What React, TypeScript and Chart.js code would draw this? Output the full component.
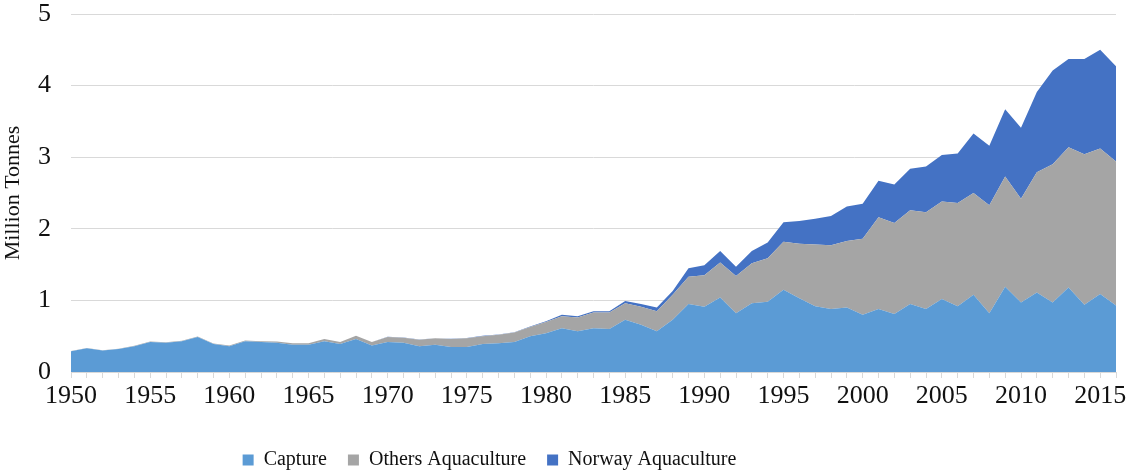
import React, { useEffect, useRef } from "react";
import { Chart, registerables } from "chart.js";

Chart.register(...registerables);

const years: string[] = [];
for (let y = 1950; y <= 2016; y++) years.push(String(y));

const capture = [
  0.29, 0.33, 0.30, 0.32, 0.36, 0.42, 0.41, 0.43, 0.49, 0.39,
  0.36, 0.43, 0.42, 0.41, 0.38, 0.38, 0.43, 0.39, 0.46, 0.37,
  0.42, 0.41, 0.36, 0.38, 0.35, 0.35, 0.39, 0.40, 0.42, 0.50,
  0.54, 0.61, 0.57, 0.61, 0.60, 0.73, 0.66, 0.57, 0.73, 0.95,
  0.91, 1.04, 0.82, 0.96, 0.98, 1.15, 1.03, 0.92, 0.88, 0.90,
  0.80, 0.88, 0.81, 0.95, 0.88, 1.02, 0.92, 1.08, 0.82, 1.19,
  0.97, 1.11, 0.97, 1.18, 0.94, 1.09, 0.93,
];

const othersAquaculture = [
  0.004, 0.004, 0.004, 0.005, 0.005, 0.005, 0.006, 0.006, 0.007, 0.007,
  0.01, 0.01, 0.01, 0.015, 0.02, 0.02, 0.03, 0.03, 0.045, 0.05,
  0.07, 0.07, 0.09, 0.09, 0.11, 0.12, 0.11, 0.12, 0.13, 0.13,
  0.16, 0.17, 0.19, 0.22, 0.23, 0.23, 0.25, 0.28, 0.35, 0.38,
  0.44, 0.49, 0.52, 0.56, 0.61, 0.67, 0.76, 0.86, 0.89, 0.93,
  1.06, 1.28, 1.27, 1.31, 1.35, 1.36, 1.44, 1.42, 1.51, 1.54,
  1.45, 1.68, 1.93, 1.96, 2.10, 2.03, 2.01,
];

const norwayAquaculture = [
  0, 0, 0, 0, 0, 0, 0, 0, 0, 0,
  0, 0, 0, 0, 0, 0, 0, 0, 0, 0,
  0.001, 0.002, 0.003, 0.003, 0.003, 0.004, 0.005, 0.005, 0.006, 0.007,
  0.01, 0.02, 0.02, 0.02, 0.02, 0.03, 0.04, 0.05, 0.05, 0.12,
  0.14, 0.16, 0.13, 0.17, 0.22, 0.27, 0.32, 0.36, 0.41, 0.48,
  0.49, 0.51, 0.54, 0.58, 0.64, 0.65, 0.69, 0.83, 0.83, 0.94,
  0.99, 1.12, 1.31, 1.23, 1.33, 1.38, 1.33,
];

const yTicks = [0, 1, 2, 3, 4, 5];
const seriesNames = ["Capture", "Others Aquaculture", "Norway Aquaculture"];
const seriesColors = ["#5B9BD5", "#A5A5A5", "#4472C4"];

const FONT = "'Liberation Serif', 'Times New Roman', serif";
const TEXT = "#111111";

export default function App() {
  const ref = useRef<HTMLCanvasElement | null>(null);

  useEffect(() => {
    document.body.style.margin = "0";
    const canvas = ref.current;
    if (!canvas) return;

    const legendShift = {
      id: "legendShift",
      afterLayout(chart: any) {
        const lg = chart.legend;
        if (!lg) return;
        lg.left = 0;
        lg.right = 979;
        lg.top += 7;
        lg.bottom += 7;
      },
    };

    const chart = new Chart(canvas, {
      type: "line",
      data: {
        labels: years,
        datasets: [capture, othersAquaculture, norwayAquaculture].map((d, i) => ({
          label: seriesNames[i],
          data: d,
          backgroundColor: seriesColors[i],
          borderColor: seriesColors[i],
          borderWidth: 0,
          pointRadius: 0,
          fill: i === 0 ? "origin" : "-1",
          tension: 0,
        })),
      },
      options: {
        animation: false,
        responsive: false,
        maintainAspectRatio: false,
        layout: { padding: { top: 0, right: 13, left: 0, bottom: 0 } },
        plugins: {
          legend: {
            position: "bottom",
            labels: {
              font: { family: FONT, size: 20 },
              color: TEXT,
              boxWidth: 11,
              boxHeight: 11,
              padding: 21,
            },
          },
          tooltip: { enabled: false },
        },
        scales: {
          x: {
            offset: false,
            grid: {
              display: true,
              drawOnChartArea: false,
              drawTicks: true,
              tickLength: 6,
              color: "#D9D9D9",
            },
            border: { display: true, color: "#D9D9D9" },
            ticks: {
              autoSkip: false,
              maxRotation: 0,
              minRotation: 0,
              padding: 3,
              font: { family: FONT, size: 26 },
              color: TEXT,
              callback: (_v: any, idx: number) => {
                const y = Number(years[idx]);
                return y % 5 === 0 ? years[idx] : "";
              },
            },
            afterFit: (s: any) => {
              s.height = 50;
            },
          },
          y: {
            stacked: true,
            min: yTicks[0],
            max: yTicks[yTicks.length - 1],
            grid: { color: "#D9D9D9", drawTicks: false, lineWidth: 1 },
            border: { display: false },
            ticks: {
              stepSize: 1,
              padding: 20,
              font: { family: FONT, size: 26 },
              color: TEXT,
            },
            title: {
              display: true,
              text: "Million Tonnes",
              font: { family: FONT, size: 22 },
              color: TEXT,
              padding: 0,
            },
            afterFit: (s: any) => {
              s.width = 71;
              s.paddingTop = 14;
              s.paddingBottom = 14;
            },
          },
        },
      },
      plugins: [legendShift],
    });

    return () => chart.destroy();
  }, []);

  return (
    <div style={{ width: 1129, height: 473 }}>
      <canvas ref={ref} width={1129} height={473} style={{ display: "block" }} />
    </div>
  );
}
